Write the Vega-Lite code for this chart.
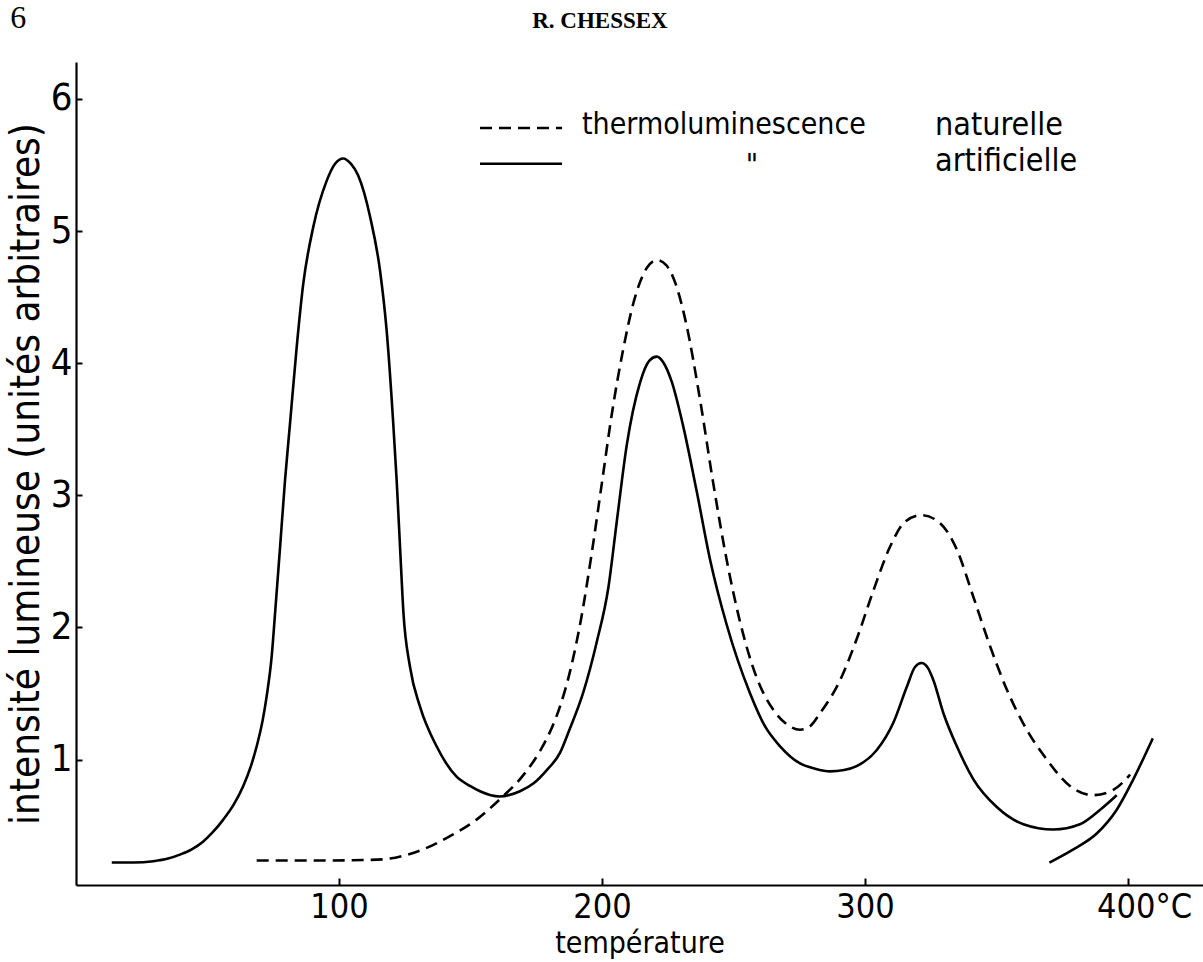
{
  "$schema": "https://vega.github.io/schema/vega-lite/v6.json",
  "width": 1127,
  "height": 823,
  "autosize": {"type": "none"},
  "padding": {"left": 76, "top": 62, "right": 0, "bottom": 77},
  "background": "white",
  "config": {
    "view": {"stroke": null},
    "axis": {"domainColor": "black", "domainWidth": 2.2, "tickColor": "black", "tickWidth": 2, "labelColor": "black", "titleColor": "black", "labelFont": "DejaVu Sans Condensed, sans-serif", "titleFont": "DejaVu Sans Condensed, sans-serif", "titleFontWeight": "normal", "grid": false}
  },
  "datasets": {
    "curves": [
      {"courbe": "artificielle", "temperature": 13.6, "intensite": 0.22},
      {"courbe": "artificielle", "temperature": 22, "intensite": 0.22},
      {"courbe": "artificielle", "temperature": 29.4, "intensite": 0.23},
      {"courbe": "artificielle", "temperature": 35, "intensite": 0.25},
      {"courbe": "artificielle", "temperature": 39.5, "intensite": 0.28},
      {"courbe": "artificielle", "temperature": 44, "intensite": 0.32},
      {"courbe": "artificielle", "temperature": 48.4, "intensite": 0.38},
      {"courbe": "artificielle", "temperature": 52, "intensite": 0.45},
      {"courbe": "artificielle", "temperature": 56, "intensite": 0.545},
      {"courbe": "artificielle", "temperature": 60, "intensite": 0.66},
      {"courbe": "artificielle", "temperature": 63.6, "intensite": 0.8},
      {"courbe": "artificielle", "temperature": 66.5, "intensite": 0.95},
      {"courbe": "artificielle", "temperature": 68.7, "intensite": 1.1},
      {"courbe": "artificielle", "temperature": 71, "intensite": 1.3},
      {"courbe": "artificielle", "temperature": 72.5, "intensite": 1.48},
      {"courbe": "artificielle", "temperature": 74.4, "intensite": 1.78},
      {"courbe": "artificielle", "temperature": 75.7, "intensite": 2.11},
      {"courbe": "artificielle", "temperature": 77.6, "intensite": 2.61},
      {"courbe": "artificielle", "temperature": 79.5, "intensite": 3.12},
      {"courbe": "artificielle", "temperature": 81.4, "intensite": 3.55},
      {"courbe": "artificielle", "temperature": 83.9, "intensite": 4.12},
      {"courbe": "artificielle", "temperature": 86.4, "intensite": 4.6},
      {"courbe": "artificielle", "temperature": 90.2, "intensite": 5.03},
      {"courbe": "artificielle", "temperature": 95.3, "intensite": 5.38},
      {"courbe": "artificielle", "temperature": 98.5, "intensite": 5.51},
      {"courbe": "artificielle", "temperature": 101.6, "intensite": 5.55},
      {"courbe": "artificielle", "temperature": 104.5, "intensite": 5.51},
      {"courbe": "artificielle", "temperature": 107.3, "intensite": 5.42},
      {"courbe": "artificielle", "temperature": 111.8, "intensite": 5.11},
      {"courbe": "artificielle", "temperature": 115.6, "intensite": 4.7},
      {"courbe": "artificielle", "temperature": 118.1, "intensite": 4.25},
      {"courbe": "artificielle", "temperature": 120.6, "intensite": 3.55},
      {"courbe": "artificielle", "temperature": 121.9, "intensite": 3.12},
      {"courbe": "artificielle", "temperature": 123.2, "intensite": 2.61},
      {"courbe": "artificielle", "temperature": 124.5, "intensite": 2.11},
      {"courbe": "artificielle", "temperature": 127, "intensite": 1.7},
      {"courbe": "artificielle", "temperature": 130.8, "intensite": 1.4},
      {"courbe": "artificielle", "temperature": 137.1, "intensite": 1.1},
      {"courbe": "artificielle", "temperature": 144.7, "intensite": 0.87},
      {"courbe": "artificielle", "temperature": 149.8, "intensite": 0.8},
      {"courbe": "artificielle", "temperature": 153.6, "intensite": 0.76},
      {"courbe": "artificielle", "temperature": 161, "intensite": 0.72},
      {"courbe": "artificielle", "temperature": 168.8, "intensite": 0.76},
      {"courbe": "artificielle", "temperature": 174, "intensite": 0.82},
      {"courbe": "artificielle", "temperature": 179, "intensite": 0.92},
      {"courbe": "artificielle", "temperature": 184, "intensite": 1.05},
      {"courbe": "artificielle", "temperature": 187.5, "intensite": 1.22},
      {"courbe": "artificielle", "temperature": 192.9, "intensite": 1.51},
      {"courbe": "artificielle", "temperature": 198, "intensite": 1.89},
      {"courbe": "artificielle", "temperature": 202.4, "intensite": 2.3},
      {"courbe": "artificielle", "temperature": 205.6, "intensite": 2.8},
      {"courbe": "artificielle", "temperature": 209.4, "intensite": 3.38},
      {"courbe": "artificielle", "temperature": 214.4, "intensite": 3.85},
      {"courbe": "artificielle", "temperature": 218, "intensite": 4.02},
      {"courbe": "artificielle", "temperature": 220.8, "intensite": 4.05},
      {"courbe": "artificielle", "temperature": 223.5, "intensite": 4.0},
      {"courbe": "artificielle", "temperature": 226.5, "intensite": 3.86},
      {"courbe": "artificielle", "temperature": 230.9, "intensite": 3.52},
      {"courbe": "artificielle", "temperature": 236, "intensite": 3.03},
      {"courbe": "artificielle", "temperature": 241, "intensite": 2.52},
      {"courbe": "artificielle", "temperature": 247.4, "intensite": 2.02},
      {"courbe": "artificielle", "temperature": 256.3, "intensite": 1.5},
      {"courbe": "artificielle", "temperature": 262, "intensite": 1.25},
      {"courbe": "artificielle", "temperature": 267.7, "intensite": 1.1},
      {"courbe": "artificielle", "temperature": 275.3, "intensite": 0.97},
      {"courbe": "artificielle", "temperature": 281, "intensite": 0.93},
      {"courbe": "artificielle", "temperature": 286.7, "intensite": 0.91},
      {"courbe": "artificielle", "temperature": 292, "intensite": 0.92},
      {"courbe": "artificielle", "temperature": 296.8, "intensite": 0.95},
      {"courbe": "artificielle", "temperature": 304.4, "intensite": 1.07},
      {"courbe": "artificielle", "temperature": 310.8, "intensite": 1.28},
      {"courbe": "artificielle", "temperature": 315.9, "intensite": 1.55},
      {"courbe": "artificielle", "temperature": 319, "intensite": 1.7},
      {"courbe": "artificielle", "temperature": 321.5, "intensite": 1.73},
      {"courbe": "artificielle", "temperature": 324, "intensite": 1.69},
      {"courbe": "artificielle", "temperature": 326, "intensite": 1.6},
      {"courbe": "artificielle", "temperature": 329.8, "intensite": 1.35},
      {"courbe": "artificielle", "temperature": 334.9, "intensite": 1.1},
      {"courbe": "artificielle", "temperature": 341.2, "intensite": 0.85},
      {"courbe": "artificielle", "temperature": 350.1, "intensite": 0.64},
      {"courbe": "artificielle", "temperature": 360.2, "intensite": 0.51},
      {"courbe": "artificielle", "temperature": 371.6, "intensite": 0.47},
      {"courbe": "artificielle", "temperature": 381.7, "intensite": 0.51},
      {"courbe": "artificielle", "temperature": 389.4, "intensite": 0.62},
      {"courbe": "artificielle", "temperature": 395.7, "intensite": 0.73},
      {"courbe": "artificielle (fin)", "temperature": 370.1, "intensite": 0.22},
      {"courbe": "artificielle (fin)", "temperature": 379.2, "intensite": 0.32},
      {"courbe": "artificielle (fin)", "temperature": 388.1, "intensite": 0.44},
      {"courbe": "artificielle (fin)", "temperature": 395.7, "intensite": 0.62},
      {"courbe": "artificielle (fin)", "temperature": 402, "intensite": 0.85},
      {"courbe": "artificielle (fin)", "temperature": 409.4, "intensite": 1.16},
      {"courbe": "naturelle", "temperature": 68.7, "intensite": 0.235},
      {"courbe": "naturelle", "temperature": 90, "intensite": 0.235},
      {"courbe": "naturelle", "temperature": 111.8, "intensite": 0.24},
      {"courbe": "naturelle", "temperature": 119.4, "intensite": 0.25},
      {"courbe": "naturelle", "temperature": 126, "intensite": 0.28},
      {"courbe": "naturelle", "temperature": 132, "intensite": 0.32},
      {"courbe": "naturelle", "temperature": 142.2, "intensite": 0.42},
      {"courbe": "naturelle", "temperature": 152.3, "intensite": 0.545},
      {"courbe": "naturelle", "temperature": 161.2, "intensite": 0.7},
      {"courbe": "naturelle", "temperature": 170, "intensite": 0.88},
      {"courbe": "naturelle", "temperature": 176, "intensite": 1.05},
      {"courbe": "naturelle", "temperature": 180, "intensite": 1.2},
      {"courbe": "naturelle", "temperature": 184, "intensite": 1.4},
      {"courbe": "naturelle", "temperature": 188, "intensite": 1.68},
      {"courbe": "naturelle", "temperature": 192, "intensite": 2.06},
      {"courbe": "naturelle", "temperature": 196, "intensite": 2.55},
      {"courbe": "naturelle", "temperature": 200, "intensite": 3.1},
      {"courbe": "naturelle", "temperature": 204, "intensite": 3.65},
      {"courbe": "naturelle", "temperature": 208, "intensite": 4.1},
      {"courbe": "naturelle", "temperature": 212, "intensite": 4.46},
      {"courbe": "naturelle", "temperature": 217, "intensite": 4.72},
      {"courbe": "naturelle", "temperature": 221, "intensite": 4.78},
      {"courbe": "naturelle", "temperature": 224.5, "intensite": 4.74},
      {"courbe": "naturelle", "temperature": 228, "intensite": 4.6},
      {"courbe": "naturelle", "temperature": 232, "intensite": 4.3},
      {"courbe": "naturelle", "temperature": 237.3, "intensite": 3.72},
      {"courbe": "naturelle", "temperature": 242.3, "intensite": 3.09},
      {"courbe": "naturelle", "temperature": 247.4, "intensite": 2.51},
      {"courbe": "naturelle", "temperature": 252.5, "intensite": 2.04},
      {"courbe": "naturelle", "temperature": 258.8, "intensite": 1.62},
      {"courbe": "naturelle", "temperature": 265, "intensite": 1.38},
      {"courbe": "naturelle", "temperature": 270, "intensite": 1.27},
      {"courbe": "naturelle", "temperature": 275.3, "intensite": 1.225},
      {"courbe": "naturelle", "temperature": 279, "intensite": 1.25},
      {"courbe": "naturelle", "temperature": 282.9, "intensite": 1.35},
      {"courbe": "naturelle", "temperature": 290.5, "intensite": 1.6},
      {"courbe": "naturelle", "temperature": 296.8, "intensite": 1.91},
      {"courbe": "naturelle", "temperature": 303.2, "intensite": 2.28},
      {"courbe": "naturelle", "temperature": 309.5, "intensite": 2.61},
      {"courbe": "naturelle", "temperature": 315.2, "intensite": 2.8},
      {"courbe": "naturelle", "temperature": 321.5, "intensite": 2.85},
      {"courbe": "naturelle", "temperature": 328.5, "intensite": 2.79},
      {"courbe": "naturelle", "temperature": 334.9, "intensite": 2.59},
      {"courbe": "naturelle", "temperature": 341.2, "intensite": 2.23},
      {"courbe": "naturelle", "temperature": 347.5, "intensite": 1.86},
      {"courbe": "naturelle", "temperature": 353.9, "intensite": 1.53},
      {"courbe": "naturelle", "temperature": 361.5, "intensite": 1.225},
      {"courbe": "naturelle", "temperature": 369.1, "intensite": 1.0},
      {"courbe": "naturelle", "temperature": 377.9, "intensite": 0.8},
      {"courbe": "naturelle", "temperature": 386.8, "intensite": 0.73},
      {"courbe": "naturelle", "temperature": 394.4, "intensite": 0.77},
      {"courbe": "naturelle", "temperature": 400.8, "intensite": 0.885}
    ]
  },
  "layer": [
    {
      "data": {"name": "curves"},
      "transform": [{"filter": "datum.courbe == 'naturelle'"}],
      "mark": {"type": "line", "interpolate": "monotone", "stroke": "black", "strokeWidth": 2.6, "strokeDash": [12, 7]},
      "encoding": {
        "x": {"field": "temperature", "type": "quantitative",
          "scale": {"domain": [0, 428.5], "nice": false, "zero": false},
          "axis": {"values": [100, 200, 300, 400], "format": "d", "labelExpr": "datum.value == 400 ? '400°C' : datum.label", "labelOffset": {"condition": {"test": "datum.value == 400", "value": 16}, "value": 0}, "labelFlush": false, "tickSize": -7, "labelPadding": 12, "labelFontSize": 34, "title": "température", "titleFontSize": 30, "titlePadding": 4}},
        "y": {"field": "intensite", "type": "quantitative",
          "scale": {"domain": [0.05, 6.28], "nice": false, "zero": false},
          "axis": {"values": [1, 2, 3, 4, 5, 6], "format": "d", "tickSize": -6, "labelPadding": 10, "labelFontSize": 38, "title": "intensité lumineuse (unités arbitraires)", "titleFontSize": 40, "titlePadding": 4}}
      }
    },
    {
      "data": {"name": "curves"},
      "transform": [{"filter": "datum.courbe != 'naturelle'"}],
      "mark": {"type": "line", "interpolate": "monotone", "stroke": "black", "strokeWidth": 2.6},
      "encoding": {
        "x": {"field": "temperature", "type": "quantitative"},
        "y": {"field": "intensite", "type": "quantitative"},
        "detail": {"field": "courbe"}
      }
    },
    {
      "data": {"values": [{"courbe": "naturelle"}]},
      "mark": {"type": "rule", "stroke": "black", "strokeWidth": 2.6, "strokeDash": [12, 7]},
      "encoding": {"x": {"datum": 153.6}, "x2": {"datum": 184.8}, "y": {"datum": 5.78}}
    },
    {
      "data": {"values": [{"courbe": "artificielle"}]},
      "mark": {"type": "rule", "stroke": "black", "strokeWidth": 2.6},
      "encoding": {"x": {"datum": 153.6}, "x2": {"datum": 184.8}, "y": {"datum": 5.51}}
    },
    {
      "data": {"values": [{"label": "thermoluminescence"}]},
      "mark": {"type": "text", "align": "left", "baseline": "middle", "font": "DejaVu Sans Condensed, sans-serif", "fontSize": 30, "color": "black"},
      "encoding": {"x": {"datum": 192.4}, "y": {"datum": 5.8}, "text": {"field": "label"}}
    },
    {
      "data": {"values": [{"label": "naturelle"}]},
      "mark": {"type": "text", "align": "left", "baseline": "middle", "font": "DejaVu Sans Condensed, sans-serif", "fontSize": 32, "color": "black"},
      "encoding": {"x": {"datum": 326.6}, "y": {"datum": 5.8}, "text": {"field": "label"}}
    },
    {
      "data": {"values": [{"label": "\""}]},
      "mark": {"type": "text", "align": "center", "baseline": "middle", "font": "DejaVu Sans Condensed, sans-serif", "fontSize": 30, "color": "black"},
      "encoding": {"x": {"datum": 257}, "y": {"datum": 5.49}, "text": {"field": "label"}}
    },
    {
      "data": {"values": [{"label": "artificielle"}]},
      "mark": {"type": "text", "align": "left", "baseline": "middle", "font": "DejaVu Sans Condensed, sans-serif", "fontSize": 32, "color": "black"},
      "encoding": {"x": {"datum": 326.6}, "y": {"datum": 5.53}, "text": {"field": "label"}}
    },
    {
      "data": {"values": [{"label": "6"}]},
      "mark": {"type": "text", "align": "left", "baseline": "alphabetic", "font": "Liberation Serif, serif", "fontSize": 32, "color": "black"},
      "encoding": {"x": {"datum": -25}, "y": {"datum": 6.535}, "text": {"field": "label"}}
    },
    {
      "data": {"values": [{"label": "R. CHESSEX"}]},
      "mark": {"type": "text", "align": "center", "baseline": "alphabetic", "font": "Liberation Serif, serif", "fontSize": 23, "fontWeight": "bold", "color": "black"},
      "encoding": {"x": {"datum": 199.2}, "y": {"datum": 6.535}, "text": {"field": "label"}}
    }
  ]
}
